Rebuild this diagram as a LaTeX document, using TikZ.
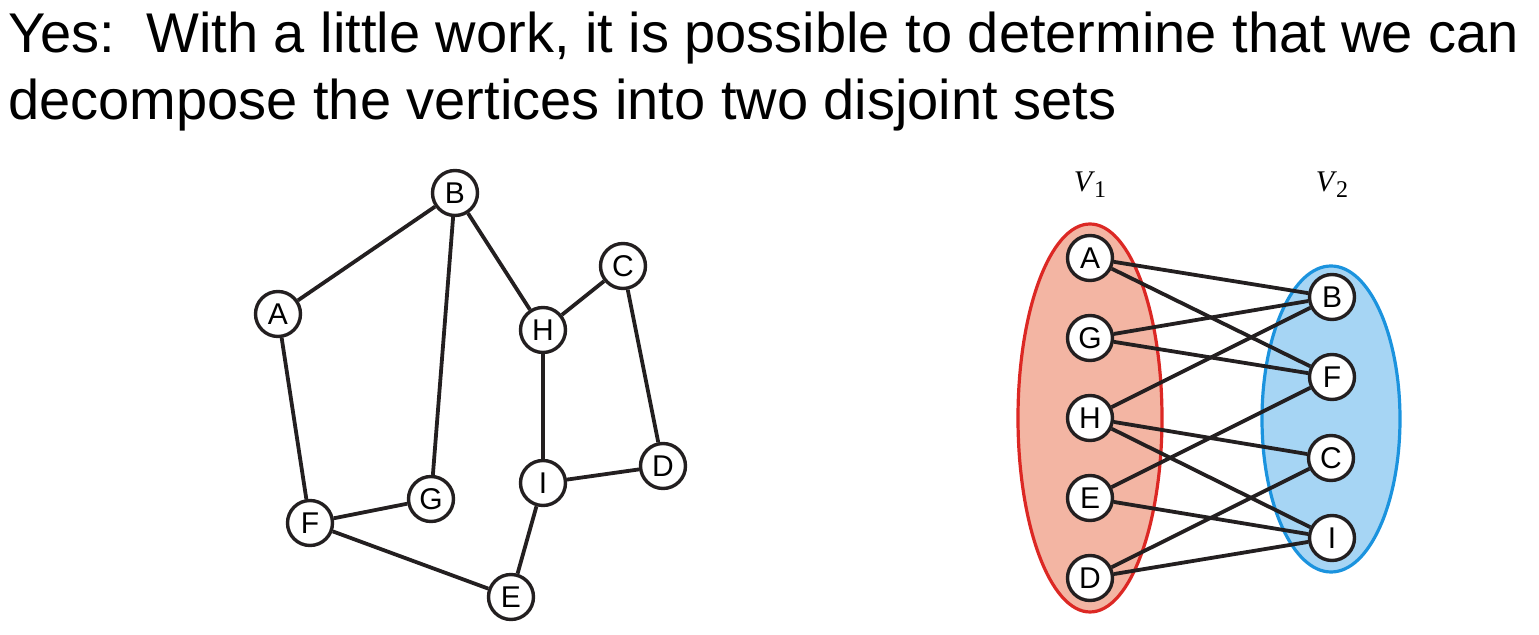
\documentclass[tikz,border=0pt]{standalone}
\usepackage{fontspec}
\setmainfont{Liberation Sans}
\newfontfamily\serifit{Liberation Serif}
\usetikzlibrary{positioning}

\definecolor{setredfill}{RGB}{243,181,163}
\definecolor{setredline}{RGB}{220,40,36}
\definecolor{setbluefill}{RGB}{166,213,244}
\definecolor{setblueline}{RGB}{27,147,222}
\definecolor{inkline}{RGB}{35,31,32}

\tikzset{
  vtx/.style={circle, draw=inkline, line width=1.7pt, fill=white, minimum size=22.5pt,
    inner sep=0pt, font=\fontsize{15}{15}\selectfont},
  edge/.style={draw=inkline, line width=1.9pt},
  setlabel/.style={font=\fontsize{15}{15}\selectfont\serifit},
  titleline/.style={anchor=base west, inner sep=0pt, font=\fontsize{28}{28}\selectfont}
}

\begin{document}
\begin{tikzpicture}[x=0.5pt,y=-0.5pt]
  \useasboundingbox (0,0) rectangle (1539,635);

  % title
  \node[titleline] (title1) at (8,53) {Yes:\ \ With a little work, it is possible to determine that we can};
  \node[titleline] (title2) at (8,120) {decompose the vertices into two disjoint sets};

  % left graph
  \node[vtx] (lB) at (455,193) {B};
  \node[vtx] (lA) at (278,314) {A};
  \node[vtx] (lC) at (623,266) {C};
  \node[vtx] (lH) at (543,330) {H};
  \node[vtx] (lG) at (431,499) {G};
  \node[vtx] (lF) at (310,523) {F};
  \node[vtx] (lI) at (543,483) {I};
  \node[vtx] (lD) at (663,466) {D};
  \node[vtx] (lE) at (511,597) {E};
  \foreach \a/\b in {lA/lB, lB/lG, lB/lH, lH/lC, lC/lD, lH/lI, lI/lD, lI/lE, lF/lE, lF/lG, lA/lF}
    \draw[edge] (\a) -- (\b);

  % right graph: the two sets
  \draw[setredline, fill=setredfill, line width=1.6pt] (1090,418) ellipse [x radius=72, y radius=194];
  \draw[setblueline, fill=setbluefill, line width=1.6pt] (1331,419) ellipse [x radius=69, y radius=153];
  \node[setlabel] (v1) at (1090,185) {\textit{V}\kern-0.5pt\raisebox{-3pt}{\fontsize{12}{12}\selectfont 1}};
  \node[setlabel] (v2) at (1332,185) {\textit{V}\kern-0.5pt\raisebox{-3pt}{\fontsize{12}{12}\selectfont 2}};

  \node[vtx] (rA) at (1090,258) {A};
  \node[vtx] (rG) at (1090,338) {G};
  \node[vtx] (rH) at (1090,418) {H};
  \node[vtx] (rE) at (1090,498) {E};
  \node[vtx] (rD) at (1090,578) {D};
  \node[vtx] (rB) at (1332,297) {B};
  \node[vtx] (rF) at (1332,377) {F};
  \node[vtx] (rC) at (1331,458) {C};
  \node[vtx] (rI) at (1332,538) {I};
  \foreach \a/\b in {rA/rB, rA/rF, rG/rB, rG/rF, rH/rB, rH/rC, rH/rI, rE/rF, rE/rI, rD/rC, rD/rI}
    \draw[edge] (\a) -- (\b);
\end{tikzpicture}
\end{document}
